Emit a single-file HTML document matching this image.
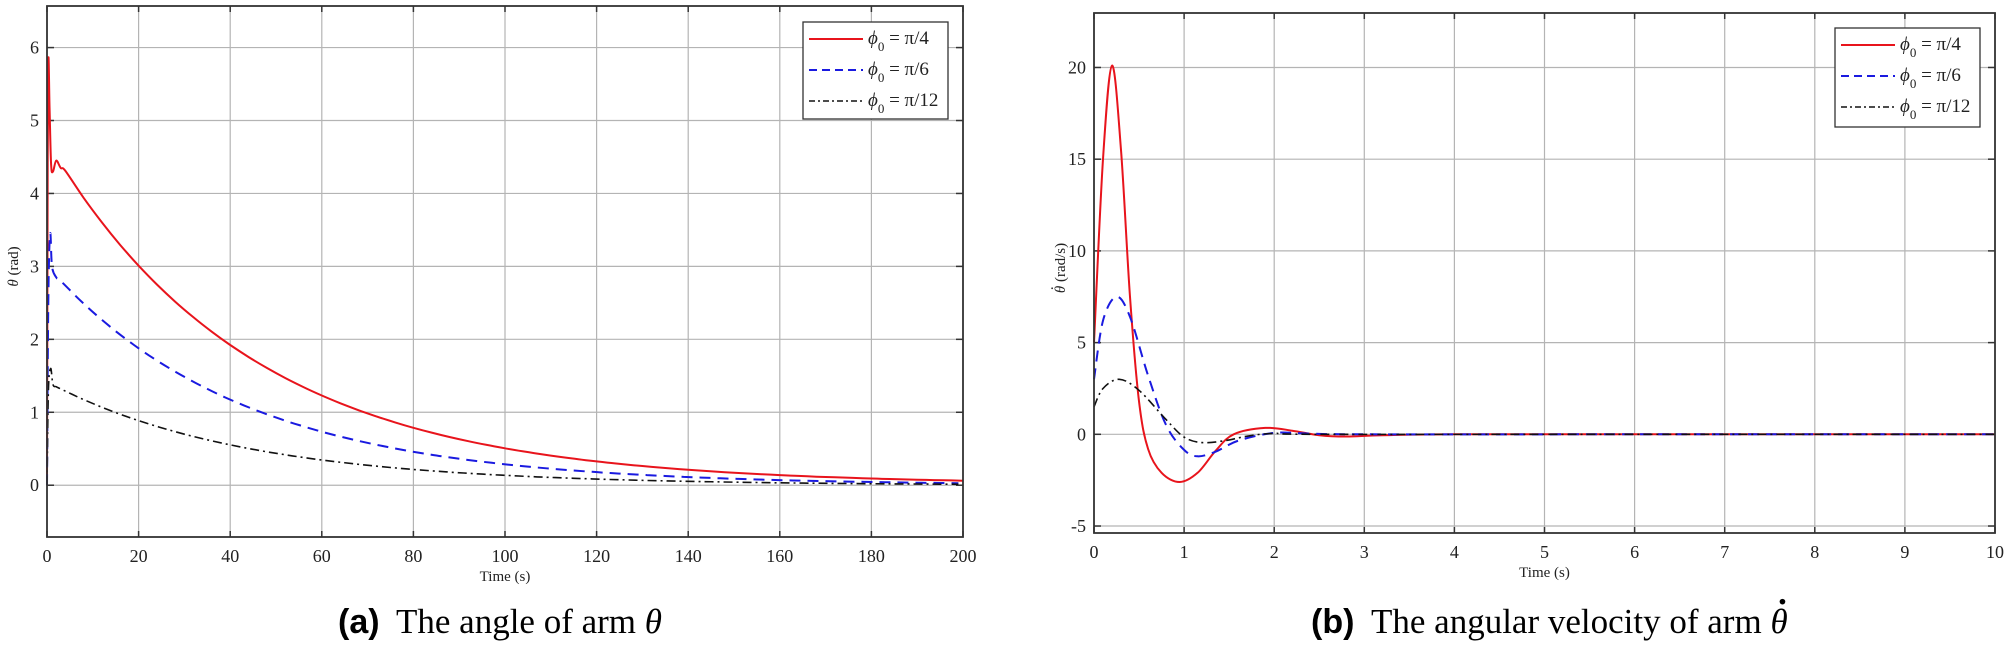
<!DOCTYPE html>
<html><head><meta charset="utf-8"><style>
html,body{margin:0;padding:0;background:#fff;}
svg{display:block;font-family:"Liberation Serif",serif;}
</style></head><body>
<svg id="s" width="2011" height="646" viewBox="0 0 2011 646" xmlns="http://www.w3.org/2000/svg">
<g id="g"></g>
<text x="338" y="633" font-family="Liberation Sans" font-weight="bold" font-size="34">(a)</text>
<text x="396" y="633" font-size="35">The angle of arm <tspan font-style="italic">θ</tspan></text>
<text x="1311" y="633" font-family="Liberation Sans" font-weight="bold" font-size="34">(b)</text>
<text x="1371" y="633" font-size="35">The angular velocity of arm <tspan font-style="italic">θ</tspan><tspan dx="-11" dy="-20" font-weight="bold">·</tspan></text>
</svg>
<script>
const NS="http://www.w3.org/2000/svg",G=document.getElementById('g');
function el(t,a,txt){const e=document.createElementNS(NS,t);for(const k in a)e.setAttribute(k,a[k]);if(txt!=null)e.textContent=txt;G.appendChild(e);return e;}
function cr(pts){let d="M"+pts[0][0].toFixed(1)+","+pts[0][1].toFixed(1);
for(let i=0;i<pts.length-1;i++){const p0=pts[Math.max(0,i-1)],p1=pts[i],p2=pts[i+1],p3=pts[Math.min(pts.length-1,i+2)];
const c1=[p1[0]+(p2[0]-p0[0])/6,p1[1]+(p2[1]-p0[1])/6],c2=[p2[0]-(p3[0]-p1[0])/6,p2[1]-(p3[1]-p1[1])/6];
d+="C"+c1[0].toFixed(1)+","+c1[1].toFixed(1)+" "+c2[0].toFixed(1)+","+c2[1].toFixed(1)+" "+p2[0].toFixed(1)+","+p2[1].toFixed(1);}return d;}
const styles=[{stroke:"#e8141c","stroke-width":2},{stroke:"#1a1ae0","stroke-width":2,"stroke-dasharray":"11,7"},{stroke:"#111","stroke-width":1.6,"stroke-dasharray":"9,4,2,4"}];
function plot(o){
 const X=v=>o.x0+(v-o.xmin)/(o.xmax-o.xmin)*(o.x1-o.x0), Y=v=>o.y0+(o.ymax-v)/(o.ymax-o.ymin)*(o.y1-o.y0);
 o.xt.forEach(v=>{const x=X(v);el('line',{x1:x,x2:x,y1:o.y0,y2:o.y1,stroke:"#b4b4b4","stroke-width":1.2});
  el('line',{x1:x,x2:x,y1:o.y1,y2:o.y1-6,stroke:"#333","stroke-width":1.5});el('line',{x1:x,x2:x,y1:o.y0,y2:o.y0+6,stroke:"#333","stroke-width":1.5});
  el('text',{x:x,y:o.y1+25,"font-size":18,"text-anchor":"middle",fill:"#222"},String(v));});
 o.yt.forEach(v=>{const y=Y(v);el('line',{x1:o.x0,x2:o.x1,y1:y,y2:y,stroke:"#b4b4b4","stroke-width":1.2});
  el('line',{x1:o.x0,x2:o.x0+7,y1:y,y2:y,stroke:"#333","stroke-width":1.5});el('line',{x1:o.x1,x2:o.x1-7,y1:y,y2:y,stroke:"#333","stroke-width":1.5});
  el('text',{x:o.x0-8,y:y+6,"font-size":18,"text-anchor":"end",fill:"#222"},String(v));});
 o.series.forEach((s,i)=>{const st=Object.assign({fill:"none","stroke-linejoin":"round"},styles[i]);st.d=cr(s.map(p=>[X(p[0]),Y(p[1])]));el('path',st);});
 el('rect',{x:o.x0,y:o.y0,width:o.x1-o.x0,height:o.y1-o.y0,fill:"none",stroke:"#333","stroke-width":1.8});
 el('text',{x:(o.x0+o.x1)/2,y:o.y1+44,"font-size":15,"text-anchor":"middle",fill:"#222"},"Time (s)");
 const yl=el('text',{x:0,y:0,"font-size":15,"text-anchor":"middle",fill:"#222",transform:`translate(${o.x0-29},${(o.y0+o.y1)/2-5}) rotate(-90)`});
 yl.innerHTML=o.ylab;
 const L=o.leg;el('rect',{x:L[0],y:L[1],width:L[2],height:L[3],fill:"#fff",stroke:"#333","stroke-width":1.3});
 const labs=["4","6","12"];
 for(let i=0;i<3;i++){const y=L[1]+17+i*31;const st=Object.assign({x1:L[0]+6,x2:L[0]+60,y1:y,y2:y},styles[i]);if(i==1)st["stroke-dasharray"]="8,5";if(i==2)st["stroke-dasharray"]="6,3,2,3";el('line',st);
  const t=el('text',{x:L[0]+65,y:y+5,"font-size":19,fill:"#222"});t.innerHTML=`<tspan font-style="italic">ϕ</tspan><tspan font-size="13" dy="7">0</tspan><tspan dy="-7"> = π/${labs[i]}</tspan>`;}
}
function ex(a,k,t0,t1,n){const r=[];for(let t=t0;t<=t1+1e-9;t+=n)r.push([t,a*Math.exp(-k*(t-t0))]);return r;}
const red=[[0,0],[0.15,4.5],[0.3,5.85],[0.55,5.2],[0.9,4.4],[1.3,4.3],[2,4.45],[3,4.35]].concat(ex(4.3,0.0225,4,200,4).map(p=>[p[0],p[1]+0.01]));
const blue=[[0,0],[0.3,2.6],[0.7,3.45],[1.1,3.0],[2,2.85]].concat(ex(2.8,0.0235,3,200,4));
const blk=[[0,0],[0.3,1.3],[0.8,1.6],[1.3,1.38],[2,1.35]].concat(ex(1.32,0.0235,3,200,4));
plot({x0:47,x1:963,y0:6,y1:537,xmin:0,xmax:200,ymin:-0.71,ymax:6.57,xt:[0,20,40,60,80,100,120,140,160,180,200],yt:[0,1,2,3,4,5,6],
 series:[red,blue,blk],ylab:'<tspan font-style="italic">θ</tspan> (rad)',leg:[803,22,145,97]});
const r2=[[0,5],[0.1,15],[0.2,20.1],[0.3,15.5],[0.4,7.5],[0.5,1.8],[0.6,-0.8],[0.75,-2.1],[0.95,-2.6],[1.15,-2.1],[1.35,-0.9],[1.55,0],[1.9,0.35],[2.2,0.2],[2.5,-0.05],[2.8,-0.12],[3.2,-0.05],[4,0],[6,0],[10,0]];
const b2=[[0,3],[0.1,6.2],[0.25,7.5],[0.4,6.4],[0.6,3.2],[0.8,0.5],[1.0,-0.85],[1.15,-1.2],[1.35,-0.95],[1.6,-0.35],[2.0,0.08],[2.4,0.04],[3,0],[6,0],[10,0]];
const k2=[[0,1.5],[0.1,2.5],[0.28,3],[0.5,2.4],[0.8,0.8],[1.0,-0.15],[1.2,-0.45],[1.45,-0.35],[1.7,-0.1],[2,0.05],[2.5,0],[6,0],[10,0]];
plot({x0:1094,x1:1995,y0:13,y1:533,xmin:0,xmax:10,ymin:-5.38,ymax:22.97,xt:[0,1,2,3,4,5,6,7,8,9,10],yt:[-5,0,5,10,15,20],
 series:[r2,b2,k2],ylab:'<tspan font-style="italic">θ</tspan><tspan dx="-5" dy="-8">·</tspan><tspan dy="8"> (rad/s)</tspan>',leg:[1835,28,145,99]});
</script>
</body></html>
